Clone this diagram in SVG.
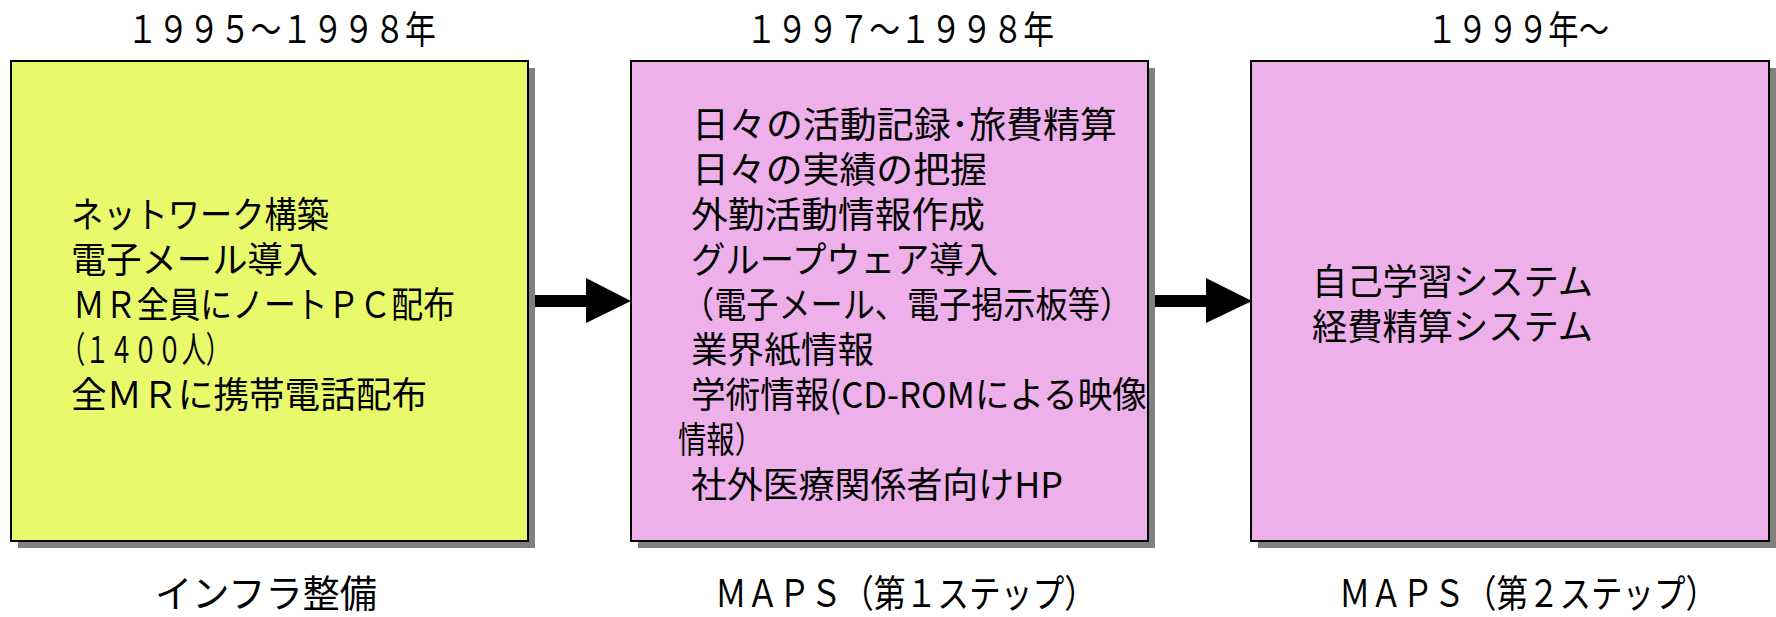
<svg xmlns="http://www.w3.org/2000/svg" width="1776" height="617" viewBox="0 0 1776 617">
<style>
text{font-family:"Noto Sans CJK JP","Noto Sans",sans-serif;fill:#000}
.b{font-size:36px}
.y{font-size:38px}
.l{font-size:38px}
.shadow{fill:#808080}
.box{stroke:#000;stroke-width:2}
.yellow{fill:#E8FA6C}
.pink{fill:#EEB0EA}
</style>
<rect width="1776" height="617" fill="#fff"/>
<g id="connectors">
<rect x="535" y="295" width="52" height="12" fill="#000"/>
<polygon points="586,278 631,301 586,323" fill="#000"/>
<rect x="1155" y="295" width="52" height="12" fill="#000"/>
<polygon points="1206,278 1252,301 1206,323" fill="#000"/>
</g>
<g id="node-infra">
<text class="y" x="127" y="43" textLength="309" lengthAdjust="spacingAndGlyphs">１９９５～１９９８年</text>
<rect class="shadow" x="18" y="68" width="517" height="480"/>
<rect class="box yellow" x="11" y="61" width="517" height="480"/>
<text class="b" x="71" y="228" textLength="258" lengthAdjust="spacingAndGlyphs">ネットワーク構築</text>
<text class="b" x="71" y="273" textLength="247" lengthAdjust="spacingAndGlyphs">電子メール導入</text>
<text class="b" x="73" y="318" textLength="382" lengthAdjust="spacingAndGlyphs">ＭＲ全員にノートＰＣ配布</text>
<text class="b" x="61" y="363" textLength="169" lengthAdjust="spacingAndGlyphs">（１４００人）</text>
<text class="b" x="71" y="408" textLength="356" lengthAdjust="spacingAndGlyphs">全ＭＲに携帯電話配布</text>
<text class="l" x="155" y="607" textLength="222" lengthAdjust="spacingAndGlyphs">インフラ整備</text>
</g>
<g id="node-maps1">
<text class="y" x="746" y="43" textLength="308" lengthAdjust="spacingAndGlyphs">１９９７～１９９８年</text>
<rect class="shadow" x="638" y="68" width="517" height="480"/>
<rect class="box pink" x="631" y="61" width="517" height="480"/>
<text class="b" x="692" y="138" textLength="425" lengthAdjust="spacingAndGlyphs">日々の活動記録･旅費精算</text>
<text class="b" x="692" y="183" textLength="295" lengthAdjust="spacingAndGlyphs">日々の実績の把握</text>
<text class="b" x="691" y="228" textLength="294" lengthAdjust="spacingAndGlyphs">外勤活動情報作成</text>
<text class="b" x="691" y="273" textLength="307" lengthAdjust="spacingAndGlyphs">グループウェア導入</text>
<text class="b" x="682" y="318" textLength="450" lengthAdjust="spacingAndGlyphs">（電子メール、電子掲示板等）</text>
<text class="b" x="691" y="363" textLength="183" lengthAdjust="spacingAndGlyphs">業界紙情報</text>
<text class="b" x="691" y="408" textLength="456" lengthAdjust="spacingAndGlyphs">学術情報(CD-ROMによる映像</text>
<text class="b" x="678" y="453" textLength="85" lengthAdjust="spacingAndGlyphs">情報）</text>
<text class="b" x="691" y="498" textLength="372" lengthAdjust="spacingAndGlyphs">社外医療関係者向けHP</text>
<text class="l" x="715" y="607" textLength="381" lengthAdjust="spacingAndGlyphs">ＭＡＰＳ（第１ステップ）</text>
</g>
<g id="node-maps2">
<text class="y" x="1427" y="43" textLength="182" lengthAdjust="spacingAndGlyphs">１９９９年～</text>
<rect class="shadow" x="1258" y="68" width="518" height="480"/>
<rect class="box pink" x="1251" y="61" width="518" height="480"/>
<text class="b" x="1312" y="295" textLength="281" lengthAdjust="spacingAndGlyphs">自己学習システム</text>
<text class="b" x="1312" y="340" textLength="281" lengthAdjust="spacingAndGlyphs">経費精算システム</text>
<text class="l" x="1339" y="607" textLength="378" lengthAdjust="spacingAndGlyphs">ＭＡＰＳ（第２ステップ）</text>
</g>
</svg>
